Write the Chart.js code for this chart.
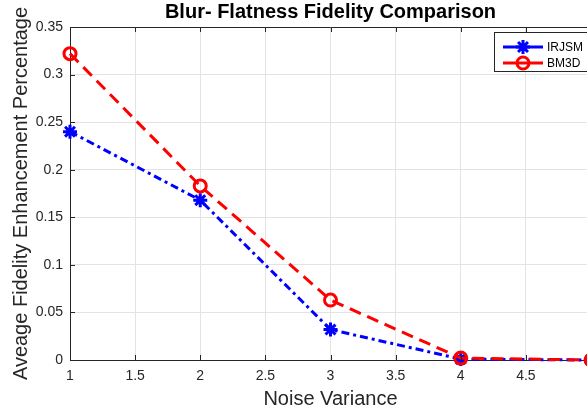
<!DOCTYPE html>
<html>
<head>
<meta charset="utf-8">
<script src="https://cdn.jsdelivr.net/npm/chart.js@4.4.1/dist/chart.umd.min.js"></script>
<style>
  html, body { margin: 0; padding: 0; background: #fff; }
  #wrap { width: 587px; height: 415px; overflow: hidden; }
</style>
</head>
<body>
<div id="wrap"><canvas id="grafico" width="620" height="415"></canvas></div>
<script>
// dados
var variancia = [1, 2, 3, 4, 5];
var irjsm = [0.240, 0.168, 0.032, 0.001, 0.000];
var bm3d = [0.322, 0.183, 0.063, 0.002, 0.000];
var nomes = ['IRJSM', 'BM3D'];
var titulo = 'Blur- Flatness Fidelity Comparison';

var fonte = '"Liberation Sans", Arial, sans-serif';
var corTexto = '#262626';

function pontos(ys) {
    return variancia.map(function(x, i) { return { x: x, y: ys[i] }; });
}

// título, linha de cima, marcas internas e legenda estilo MATLAB
var estiloMatlab = {
    id: 'estiloMatlab',
    afterDraw: function(chart) {
        var ctx = chart.ctx;
        var a = chart.chartArea;
        var sx = chart.scales.x, sy = chart.scales.y;
        ctx.save();
        ctx.strokeStyle = corTexto;
        ctx.lineWidth = 1;
        ctx.beginPath();
        ctx.moveTo(a.left, a.top + 0.5);
        ctx.lineTo(a.right, a.top + 0.5);
        sx.ticks.forEach(function(t) {
            var px = Math.round(sx.getPixelForValue(t.value)) + 0.5;
            ctx.moveTo(px, a.bottom); ctx.lineTo(px, a.bottom - 5);
            ctx.moveTo(px, a.top); ctx.lineTo(px, a.top + 5);
        });
        sy.ticks.forEach(function(t) {
            var py = Math.round(sy.getPixelForValue(t.value)) + 0.5;
            ctx.moveTo(a.left, py); ctx.lineTo(a.left + 5, py);
        });
        ctx.stroke();

        // título
        ctx.fillStyle = '#000';
        ctx.font = 'bold 20px ' + fonte;
        ctx.textAlign = 'center';
        ctx.textBaseline = 'middle';
        ctx.fillText(titulo, (a.left + a.right) / 2, 12);

        // legenda
        var bx = 494, by = 32, bw = 120, bh = 39;
        ctx.fillStyle = '#fff';
        ctx.fillRect(bx, by, bw, bh);
        ctx.strokeStyle = corTexto;
        ctx.strokeRect(bx + 0.5, by + 0.5, bw, bh);
        chart.data.datasets.forEach(function(ds, i) {
            var y = 47 + i * 16;
            ctx.strokeStyle = ds.borderColor;
            ctx.lineWidth = ds.borderWidth;
            ctx.setLineDash([]);
            ctx.beginPath();
            ctx.moveTo(503, y); ctx.lineTo(543, y);
            ctx.stroke();
            ctx.lineWidth = ds.pointBorderWidth;
            ctx.fillStyle = ds.pointBackgroundColor;
            Chart.helpers.drawPoint(ctx, {
                pointStyle: ds.pointStyle, radius: ds.pointRadius,
                borderWidth: ds.pointBorderWidth, rotation: 0
            }, 523, y);
            ctx.fillStyle = '#000';
            ctx.font = '12px ' + fonte;
            ctx.textAlign = 'left';
            ctx.fillText(ds.label, 547, y + 1);
        });
        ctx.restore();
    }
};

new Chart(document.getElementById('grafico'), {
    type: 'line',
    data: {
        datasets: [{
            label: nomes[0],
            data: pontos(irjsm),
            borderColor: '#0000ff',
            borderWidth: 3,
            borderDash: [8, 4, 3, 4],
            pointStyle: 'star',
            pointRadius: 7,
            pointBorderWidth: 3,
            pointBorderColor: '#0000ff',
            pointBackgroundColor: '#0000ff',
            tension: 0,
            clip: false,
            order: 2
        }, {
            label: nomes[1],
            data: pontos(bm3d),
            borderColor: '#ff0000',
            borderWidth: 3,
            borderDash: [12, 7],
            pointStyle: 'circle',
            pointRadius: 6,
            pointBorderWidth: 3,
            pointBorderColor: '#ff0000',
            pointBackgroundColor: 'rgba(0,0,0,0)',
            tension: 0,
            clip: false,
            order: 1
        }]
    },
    plugins: [estiloMatlab],
    options: {
        responsive: false,
        animation: false,
        layout: { padding: { left: 0, right: 29, top: 27, bottom: 0 } },
        plugins: {
            legend: { display: false },
            title: { display: false },
            tooltip: { enabled: false }
        },
        scales: {
            x: {
                type: 'linear',
                min: 1,
                max: 5,
                afterFit: function(s) { s.height = 55; },
                grid: { color: '#e3e3e3', drawTicks: false },
                border: { color: corTexto, width: 1 },
                ticks: {
                    stepSize: 0.5,
                    padding: 8,
                    color: corTexto,
                    font: { family: fonte, size: 14 },
                    maxRotation: 0,
                    callback: function(v) { return String(Number(v.toFixed(2))); }
                },
                title: {
                    display: true,
                    text: 'Noise Variance',
                    color: corTexto,
                    font: { family: fonte, size: 20 },
                    padding: { top: 0, bottom: 4 }
                }
            },
            y: {
                min: 0,
                max: 0.35,
                afterFit: function(s) { s.width = 70; },
                grid: { color: '#e3e3e3', drawTicks: false },
                border: { color: corTexto, width: 1 },
                ticks: {
                    stepSize: 0.05,
                    padding: 7,
                    color: corTexto,
                    font: { family: fonte, size: 14 },
                    callback: function(v) { return String(Number(v.toFixed(2))); }
                },
                title: {
                    display: true,
                    text: 'Aveage Fidelity Enhancement Percentage',
                    color: corTexto,
                    font: { family: fonte, size: 20 },
                    padding: { top: 9, bottom: 0 }
                }
            }
        }
    }
});
</script>
</body>
</html>
